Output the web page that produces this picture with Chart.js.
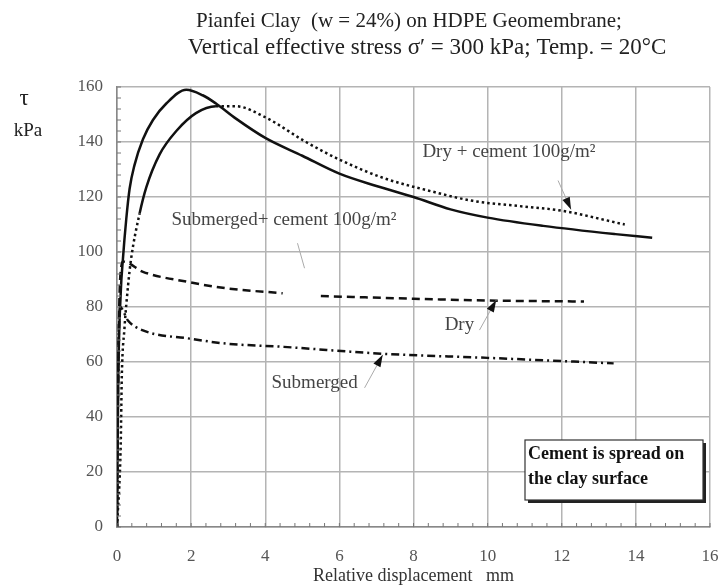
<!DOCTYPE html>
<html>
<head>
<meta charset="utf-8">
<script src="https://cdn.jsdelivr.net/npm/chart.js@4/dist/chart.umd.min.js"></script>
<style>
  body { margin: 0; background: #fff; }
  canvas { display: block; }
</style>
</head>
<body>
<canvas id="shearChart" width="722" height="587"></canvas>
<script>
// Relative displacement (mm) / shear stress tau (kPa)
const subCementX = [0, 0.03, 0.1, 0.16, 0.25, 0.34, 0.47, 0.7, 0.97, 1.33, 1.87, 2.31, 2.67, 3.21, 4.0, 5.0, 6.0, 7.0, 8.0, 9.0, 10.0, 11.5, 13.45, 14.44];
const subCementY = [0, 50, 85, 97.5, 112, 123, 131.5, 141, 148, 154, 159, 157, 154, 148.5, 141.5, 135, 128.5, 124, 120, 115.5, 112.5, 109.5, 106.5, 105.2];

const dryCementX = [0, 0.1, 0.13, 0.2, 0.3, 0.38, 0.61, 0.79, 1.15, 1.6, 2.13, 2.67, 3.2, 4.0, 5.1, 6.0, 7.17, 8.5, 9.6, 11.0, 12.0, 13.7];
const dryCementY = [0, 30, 55, 72, 88, 97.5, 114, 123.5, 135.5, 144, 150.5, 153, 153, 149, 140, 133.6, 127, 122, 118.6, 116.5, 115, 110];

const dryX = [0, 0.02, 0.06, 0.12, 0.16, 0.7, 1.96, 2.95, 4.47, 5.0, 5.5, 8.0, 10.3, 12.6];
const dryY = [0, 40, 80, 95, 96.5, 92.8, 89, 86.8, 85, null, 84, 83, 82.3, 82];

const subX = [0, 0.02, 0.08, 0.3, 0.7, 1.96, 2.94, 4.5, 7.16, 10.0, 13.4];
const subY = [0, 40, 80, 75, 71.5, 68.5, 66.7, 65.5, 63, 61.5, 59.5];

const xTicks = [0, 2, 4, 6, 8, 10, 12, 14, 16];
const yTicks = [0, 20, 40, 60, 80, 100, 120, 140, 160];

const toPoints = (xs, ys) => xs.map((x, i) => ({ x: x, y: ys[i] }));

const serif = '"Liberation Serif", "DejaVu Serif", serif';
const ink = '#111';

// text, arrows, minor ticks and the note box
const decor = {
    id: 'decor',
    afterDatasetsDraw(chart) {
        const ctx = chart.ctx;
        const xs = chart.scales.x, ys = chart.scales.y;
        const px = v => xs.getPixelForValue(v);
        const py = v => ys.getPixelForValue(v);
        const area = chart.chartArea;

        ctx.save();

        // minor ticks
        ctx.strokeStyle = '#777';
        ctx.lineWidth = 1;
        ctx.beginPath();
        for (let v = 0; v <= 160; v += 4) {
            ctx.moveTo(area.left, py(v));
            ctx.lineTo(area.left + 4, py(v));
        }
        for (let v = 0; v <= 16.001; v += 0.4) {
            ctx.moveTo(px(v), area.bottom);
            ctx.lineTo(px(v), area.bottom - 4);
        }
        ctx.stroke();

        // title
        ctx.fillStyle = '#222';
        ctx.textAlign = 'center';
        ctx.textBaseline = 'middle';
        ctx.font = '21px ' + serif;
        ctx.fillText('Pianfei Clay  (w = 24%) on HDPE Geomembrane;', 409, 21);
        ctx.font = '23px ' + serif;
        ctx.fillText('Vertical effective stress \u03C3\u2032 = 300 kPa; Temp. = 20\u00B0C', 427, 48);

        // y axis label
        ctx.font = '23px ' + serif;
        ctx.fillText('\u03C4', 24, 99);
        ctx.font = '19px ' + serif;
        ctx.fillText('kPa', 28, 131);

        // curve labels
        ctx.fillStyle = '#444';
        ctx.font = '19px ' + serif;
        ctx.textAlign = 'left';
        ctx.fillText('Submerged+ cement 100g/m\u00B2', px(1.47), py(111.5));
        ctx.fillText('Dry + cement 100g/m\u00B2', px(8.24), py(136.3));
        ctx.fillText('Dry', px(8.84), py(73.4));
        ctx.fillText('Submerged', px(4.17), py(52.4));

        // arrows: grey tail, black head at the curve
        const arrow = (x0, y0, x1, y1, head) => {
            const ax = px(x0), ay = py(y0), bx = px(x1), by = py(y1);
            ctx.strokeStyle = '#aaa';
            ctx.lineWidth = 1;
            ctx.beginPath();
            ctx.moveTo(ax, ay);
            ctx.lineTo(bx, by);
            ctx.stroke();
            if (!head) return;
            const a = Math.atan2(by - ay, bx - ax);
            ctx.fillStyle = ink;
            ctx.beginPath();
            ctx.moveTo(bx, by);
            ctx.lineTo(bx - 12 * Math.cos(a) + 4 * Math.sin(a), by - 12 * Math.sin(a) - 4 * Math.cos(a));
            ctx.lineTo(bx - 12 * Math.cos(a) - 4 * Math.sin(a), by - 12 * Math.sin(a) + 4 * Math.cos(a));
            ctx.closePath();
            ctx.fill();
        };
        arrow(11.9, 126, 12.25, 115.5, true);
        arrow(9.78, 71.6, 10.23, 82.5, true);
        arrow(6.68, 50.6, 7.17, 62.6, true);
        arrow(4.87, 103.2, 5.06, 94.1, false);

        // note box
        const bx = 525, by = 440, bw = 178, bh = 60;
        ctx.fillStyle = '#222';
        ctx.fillRect(bx + 3, by + 3, bw, bh);
        ctx.fillStyle = '#fff';
        ctx.fillRect(bx, by, bw, bh);
        ctx.strokeStyle = '#333';
        ctx.lineWidth = 1.2;
        ctx.strokeRect(bx, by, bw, bh);
        ctx.fillStyle = '#111';
        ctx.font = 'bold 18px ' + serif;
        ctx.fillText('Cement is spread on', bx + 3, by + 14);
        ctx.fillText('the clay surface', bx + 3, by + 39);

        ctx.restore();
    }
};

const ctx = document.getElementById('shearChart').getContext('2d');
new Chart(ctx, {
    type: 'scatter',
    data: {
        datasets: [{
            label: 'Submerged + cement 100g/m2',
            data: toPoints(subCementX, subCementY),
            showLine: true,
            borderColor: ink,
            borderWidth: 2.5,
            pointRadius: 0,
            cubicInterpolationMode: 'monotone'
        }, {
            label: 'Dry + cement 100g/m2',
            data: toPoints(dryCementX, dryCementY),
            showLine: true,
            borderColor: ink,
            borderWidth: 2.5,
            borderDash: [2.5, 3],
            pointRadius: 0,
            cubicInterpolationMode: 'monotone',
            segment: {
                borderDash: c => (c.p0.parsed.y >= 112 && c.p1.parsed.x <= 2.7) ? [] : undefined
            }
        }, {
            label: 'Dry',
            data: toPoints(dryX, dryY),
            showLine: true,
            borderColor: ink,
            borderWidth: 2.5,
            borderDash: [8, 5],
            pointRadius: 0,
            cubicInterpolationMode: 'monotone',
            spanGaps: false
        }, {
            label: 'Submerged',
            data: toPoints(subX, subY),
            showLine: true,
            borderColor: ink,
            borderWidth: 2.5,
            borderDash: [8, 4, 2, 4],
            pointRadius: 0,
            cubicInterpolationMode: 'monotone'
        }]
    },
    options: {
        responsive: false,
        animation: false,
        layout: { padding: { left: 0, top: 87, right: 12, bottom: 0 } },
        plugins: {
            legend: { display: false },
            tooltip: { enabled: false }
        },
        scales: {
            x: {
                type: 'linear',
                min: 0,
                max: 16,
                afterBuildTicks: s => { s.ticks = xTicks.map(v => ({ value: v })); },
                afterFit: s => { s.height = 60; s.paddingLeft = 0; s.paddingRight = 0; },
                ticks: { color: '#555', font: { family: serif, size: 17 }, padding: 19 },
                grid: { color: '#b4b4b4', lineWidth: 1.5, tickLength: 0 },
                border: { color: '#888', width: 1.5 },
                title: {
                    display: true,
                    text: 'Relative displacement   mm',
                    color: '#333',
                    font: { family: serif, size: 18 },
                    padding: 0
                }
            },
            y: {
                min: 0,
                max: 160,
                afterBuildTicks: s => { s.ticks = yTicks.map(v => ({ value: v })); },
                afterFit: s => { s.width = 117; s.paddingTop = 0; s.paddingBottom = 0; },
                ticks: { color: '#555', font: { family: serif, size: 17 }, padding: 14 },
                grid: { color: '#b4b4b4', lineWidth: 1.5, tickLength: 0 },
                border: { color: '#888', width: 1.5 }
            }
        }
    },
    plugins: [decor]
});
</script>
</body>
</html>
